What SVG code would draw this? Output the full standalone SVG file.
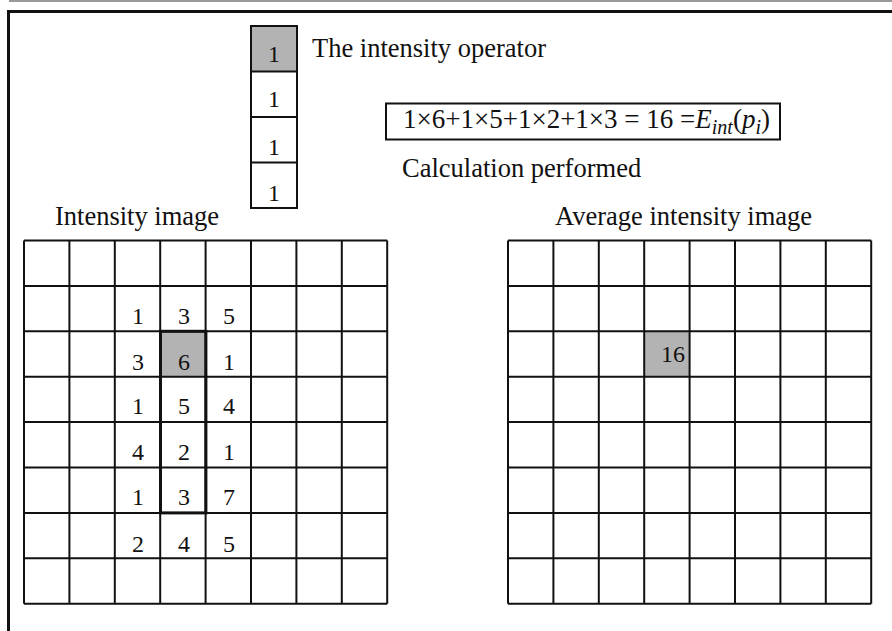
<svg xmlns="http://www.w3.org/2000/svg" width="892" height="631" viewBox="0 0 892 631">
<style>
text{font-family:"Liberation Serif","Times New Roman",serif;fill:#111}
.lbl{font-size:26.5px}
.num{font-size:24px;text-anchor:middle}
.grid line{stroke:#111;stroke-width:2}
.box{fill:none;stroke:#111;stroke-width:2}
.gray{fill:#b3b3b3}
</style>
<rect width="892" height="631" fill="#fff"/>
<g id="frame">
<line x1="9" y1="1" x2="892" y2="1" stroke="#999" stroke-width="2"/>
<polyline points="8.5,631 8.5,11.5 892,11.5" fill="none" stroke="#111" stroke-width="3"/>
</g>
<g id="operator">
<rect class="gray" x="251" y="26" width="46" height="45.5"/>
<rect class="box" x="251" y="26" width="46" height="182"/>
<line x1="251" y1="71.5" x2="297" y2="71.5" stroke="#111" stroke-width="2"/>
<line x1="251" y1="117" x2="297" y2="117" stroke="#111" stroke-width="2"/>
<line x1="251" y1="162.5" x2="297" y2="162.5" stroke="#111" stroke-width="2"/>
<text class="num" x="274" y="62">1</text>
<text class="num" x="274" y="107">1</text>
<text class="num" x="274" y="155">1</text>
<text class="num" x="274" y="201">1</text>
<text class="lbl" x="312" y="57">The intensity operator</text>
</g>
<g id="formula">
<rect class="box" x="386" y="103.5" width="394" height="36"/>
<text x="403" y="128" font-size="27">1×6+1×5+1×2+1×3 = 16 =<tspan font-style="italic">E</tspan><tspan font-style="italic" font-size="20" dy="6">int</tspan><tspan dy="-6">(</tspan><tspan font-style="italic">p</tspan><tspan font-style="italic" font-size="20" dy="6">i</tspan><tspan dy="-6">)</tspan></text>
<text class="lbl" x="402" y="177">Calculation performed</text>
</g>
<g id="intensity-image">
<text class="lbl" x="55" y="225">Intensity image</text>
<rect class="gray" x="160.8" y="331.3" width="45.4" height="45.4"/>
<g class="grid">
<line x1="24" y1="240.5" x2="387.2" y2="240.5"/>
<line x1="24" y1="285.9" x2="387.2" y2="285.9"/>
<line x1="24" y1="331.3" x2="387.2" y2="331.3"/>
<line x1="24" y1="376.7" x2="387.2" y2="376.7"/>
<line x1="24" y1="422.1" x2="387.2" y2="422.1"/>
<line x1="24" y1="467.5" x2="387.2" y2="467.5"/>
<line x1="24" y1="512.9" x2="387.2" y2="512.9"/>
<line x1="24" y1="558.3" x2="387.2" y2="558.3"/>
<line x1="24" y1="603.7" x2="387.2" y2="603.7"/>
<line x1="24" y1="240.5" x2="24" y2="603.7"/>
<line x1="69.4" y1="240.5" x2="69.4" y2="603.7"/>
<line x1="114.8" y1="240.5" x2="114.8" y2="603.7"/>
<line x1="160.2" y1="240.5" x2="160.2" y2="603.7"/>
<line x1="205.6" y1="240.5" x2="205.6" y2="603.7"/>
<line x1="251" y1="240.5" x2="251" y2="603.7"/>
<line x1="296.4" y1="240.5" x2="296.4" y2="603.7"/>
<line x1="341.8" y1="240.5" x2="341.8" y2="603.7"/>
<line x1="387.2" y1="240.5" x2="387.2" y2="603.7"/>
</g>
<rect x="160.5" y="331.3" width="45.4" height="181.6" fill="none" stroke="#111" stroke-width="3"/>
<text class="num" x="138" y="324">1</text><text class="num" x="184" y="324">3</text><text class="num" x="229" y="324">5</text>
<text class="num" x="138" y="370">3</text><text class="num" x="184" y="370">6</text><text class="num" x="229" y="370">1</text>
<text class="num" x="138" y="414">1</text><text class="num" x="184" y="414">5</text><text class="num" x="229" y="414">4</text>
<text class="num" x="138" y="460">4</text><text class="num" x="184" y="460">2</text><text class="num" x="229" y="460">1</text>
<text class="num" x="138" y="505">1</text><text class="num" x="184" y="505">3</text><text class="num" x="229" y="505">7</text>
<text class="num" x="138" y="552">2</text><text class="num" x="184" y="552">4</text><text class="num" x="229" y="552">5</text>
</g>
<g id="average-intensity-image">
<text class="lbl" x="555" y="225">Average intensity image</text>
<rect class="gray" x="644.2" y="331.3" width="45.4" height="45.4"/>
<g class="grid">
<line x1="508" y1="240.5" x2="871.2" y2="240.5"/>
<line x1="508" y1="285.9" x2="871.2" y2="285.9"/>
<line x1="508" y1="331.3" x2="871.2" y2="331.3"/>
<line x1="508" y1="376.7" x2="871.2" y2="376.7"/>
<line x1="508" y1="422.1" x2="871.2" y2="422.1"/>
<line x1="508" y1="467.5" x2="871.2" y2="467.5"/>
<line x1="508" y1="512.9" x2="871.2" y2="512.9"/>
<line x1="508" y1="558.3" x2="871.2" y2="558.3"/>
<line x1="508" y1="603.7" x2="871.2" y2="603.7"/>
<line x1="508" y1="240.5" x2="508" y2="603.7"/>
<line x1="553.4" y1="240.5" x2="553.4" y2="603.7"/>
<line x1="598.8" y1="240.5" x2="598.8" y2="603.7"/>
<line x1="644.2" y1="240.5" x2="644.2" y2="603.7"/>
<line x1="689.6" y1="240.5" x2="689.6" y2="603.7"/>
<line x1="735" y1="240.5" x2="735" y2="603.7"/>
<line x1="780.4" y1="240.5" x2="780.4" y2="603.7"/>
<line x1="825.8" y1="240.5" x2="825.8" y2="603.7"/>
<line x1="871.2" y1="240.5" x2="871.2" y2="603.7"/>
</g>
<text class="num" x="673" y="362">16</text>
</g>
</svg>
